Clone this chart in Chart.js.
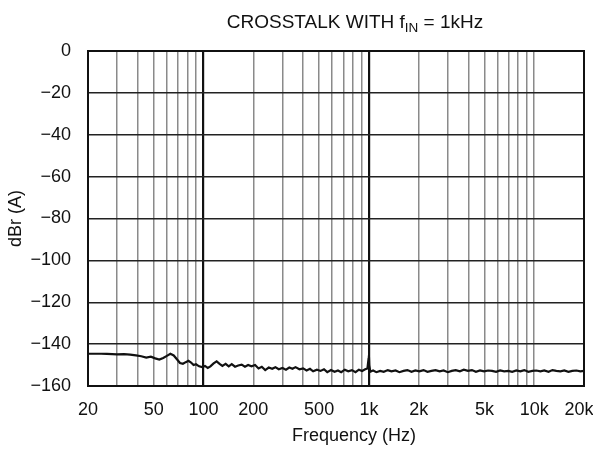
<!DOCTYPE html>
<html>
<head>
<meta charset="utf-8">
<script src="https://cdn.jsdelivr.net/npm/chart.js@4/dist/chart.umd.min.js"></script>
<style>
html,body{margin:0;padding:0;background:#fff;}
#wrap{width:593px;height:449px;position:relative;}
</style>
</head>
<body>
<div id="wrap"><canvas id="c" width="593" height="449"></canvas></div>
<script>
const freqHz = [20,22,24,26,28,30,33,36,39,42,45,48,51,54,57,60,63,66,69,72,75,78,81,84,87,90,94,98,102,106,110,115,120,125,130,136,142,148,155,162,170,178,186,195,205,215,225,236,248,260,272,285,300,315,330,345,360,380,400,420,440,460,485,510,535,560,590,620,650,680,715,750,790,830,870,910,950,980,995,1000,1005,1020,1060,1110,1170,1230,1300,1370,1450,1530,1620,1710,1810,1910,2020,2140,2260,2390,2530,2680,2830,3000,3170,3350,3550,3750,3970,4200,4440,4700,4970,5260,5560,5880,6220,6580,6960,7360,7790,8240,8710,9210,9740,10300,10900,11500,12200,12900,13600,14400,15200,16100,17000,18000,19000,20000];
const crosstalkDb = [-144.6,-144.6,-144.6,-144.7,-144.8,-144.9,-144.8,-145.0,-145.4,-145.8,-146.4,-146.0,-146.8,-147.4,-146.6,-145.6,-144.6,-145.4,-147.2,-149.0,-149.4,-148.6,-148.0,-148.8,-150.0,-149.6,-150.6,-151.0,-150.4,-151.4,-150.6,-149.2,-148.2,-149.4,-150.4,-149.4,-150.6,-149.6,-150.8,-150.2,-149.8,-150.8,-150.0,-150.6,-150.0,-151.6,-150.8,-152.4,-151.2,-151.8,-151.0,-152.0,-151.4,-152.2,-151.2,-151.8,-151.0,-152.0,-151.6,-152.6,-151.8,-153.0,-152.2,-152.8,-152.0,-153.4,-152.4,-153.2,-152.6,-153.4,-152.2,-153.0,-152.4,-153.4,-152.2,-152.8,-152.0,-151.6,-147.0,-145.4,-150.0,-153.2,-152.6,-153.4,-152.8,-153.2,-152.4,-153.0,-152.6,-153.4,-152.8,-152.4,-153.2,-152.6,-153.0,-152.4,-153.2,-152.8,-152.4,-153.0,-152.6,-153.4,-152.8,-152.4,-153.0,-152.2,-152.8,-152.4,-153.2,-152.6,-153.0,-152.6,-152.8,-153.2,-152.6,-153.0,-152.8,-153.2,-152.6,-153.0,-152.4,-153.2,-152.8,-152.6,-153.0,-152.6,-153.2,-152.4,-152.8,-153.0,-152.6,-153.2,-152.8,-152.6,-153.0,-152.8];
const xGridTicks = [20,30,40,50,60,70,80,90,100,200,300,400,500,600,700,800,900,1000,2000,3000,4000,5000,6000,7000,8000,9000,10000,20000];
const xTickLabels = {20:'20',50:'50',100:'100',200:'200',500:'500',1000:'1k',2000:'2k',5000:'5k',10000:'10k',20000:'20k  '};
const yTicks = [0,-20,-40,-60,-80,-100,-120,-140,-160];

const FONT = '"Liberation Sans", Arial, Helvetica, sans-serif';

const textPlugin = {
  id: 'texts',
  afterDraw(chart) {
    const ctx = chart.ctx;
    const a = chart.chartArea;
    ctx.save();
    ctx.fillStyle = '#111';
    // title with subscript
    const big = '19px ' + FONT, small = '13.5px ' + FONT;
    const p1 = 'CROSSTALK WITH f', p2 = 'IN', p3 = ' = 1kHz';
    ctx.font = big; const w1 = ctx.measureText(p1).width, w3 = ctx.measureText(p3).width;
    ctx.font = small; const w2 = ctx.measureText(p2).width;
    const total = w1 + w2 + w3;
    let x = 355 - total / 2; const by = 28;
    ctx.textBaseline = 'alphabetic'; ctx.textAlign = 'left';
    ctx.font = big; ctx.fillText(p1, x, by); x += w1;
    ctx.font = small; ctx.fillText(p2, x, by + 4); x += w2;
    ctx.font = big; ctx.fillText(p3, x, by);
    // x axis title
    ctx.font = '18px ' + FONT; ctx.textAlign = 'center';
    ctx.fillText('Frequency (Hz)', 354, 441);
    // y axis title
    ctx.translate(21, (a.top + a.bottom) / 2);
    ctx.rotate(-Math.PI / 2);
    ctx.fillText('dBr (A)', 0, 0);
    ctx.restore();
    // frame
    ctx.save();
    ctx.strokeStyle = '#111'; ctx.lineWidth = 2;
    ctx.strokeRect(a.left, a.top, a.right - a.left, a.bottom - a.top);
    ctx.restore();
  }
};

new Chart(document.getElementById('c'), {
  type: 'scatter',
  data: {
    datasets: [{
      data: freqHz.map((f, i) => ({x: f, y: crosstalkDb[i]})),
      showLine: true,
      borderColor: '#111',
      borderWidth: 2.2,
      pointRadius: 0,
      tension: 0
    }]
  },
  options: {
    responsive: false,
    animation: false,
    layout: {padding: {top: 51, right: 9, left: 0, bottom: 0}},
    plugins: {legend: {display: false}, tooltip: {enabled: false}},
    scales: {
      x: {
        type: 'logarithmic',
        min: 20, max: 20000,
        afterBuildTicks(s) { s.ticks = xGridTicks.map(v => ({value: v})); },
        afterFit(s) { s.height = 63; s.paddingLeft = 0; s.paddingRight = 0; },
        border: {display: false},
        grid: {
          drawTicks: false,
          color: c => (c.tick && (c.tick.value === 100 || c.tick.value === 1000)) ? '#111' : '#8a8a8a',
          lineWidth: c => (c.tick && (c.tick.value === 100 || c.tick.value === 1000)) ? 2.2 : 1.5
        },
        ticks: {
          autoSkip: false, maxRotation: 0, padding: 13,
          color: '#111', font: {family: FONT, size: 18},
          callback: v => xTickLabels[v] || ''
        }
      },
      y: {
        min: -160, max: 0,
        afterBuildTicks(s) { s.ticks = yTicks.map(v => ({value: v})); },
        afterFit(s) { s.width = 88; s.paddingTop = 0; s.paddingBottom = 0; },
        border: {display: false},
        grid: {drawTicks: false, color: '#222', lineWidth: 1.4},
        ticks: {
          padding: 17, color: '#111', font: {family: FONT, size: 18},
          callback: v => String(v).replace('-', '\u2212')
        }
      }
    }
  },
  plugins: [textPlugin]
});
</script>
</body>
</html>
